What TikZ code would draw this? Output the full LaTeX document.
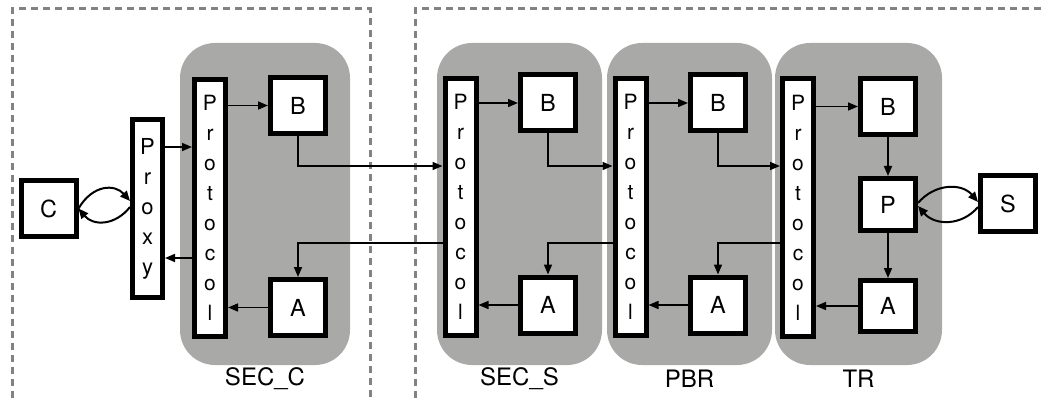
\documentclass[tikz,border=0pt]{standalone}
\usepackage{fontspec}
\setmainfont{TeX Gyre Heros}
\usetikzlibrary{arrows.meta}
\definecolor{panelgray}{RGB}{169,170,168}
\definecolor{dashgray}{RGB}{130,130,130}
\begin{document}
\begin{tikzpicture}[x=1pt,y=-1pt,
  frame/.style={draw=dashgray, line width=3pt, dash pattern=on 7pt off 5pt},
  panel/.style={fill=panelgray, rounded corners=35pt, minimum width=166pt, minimum height=322pt, inner sep=0pt},
  box/.style={draw, line width=5pt, fill=white, inner sep=0pt, minimum width=55pt, minimum height=56pt, font=\fontsize{23.5}{28}\selectfont},
  proto/.style={draw, line width=5pt, fill=white, inner sep=0pt, minimum width=31pt, minimum height=257pt, align=center, font=\fontsize{21}{30}\selectfont},
  proxybox/.style={draw, line width=5pt, fill=white, inner sep=0pt, minimum width=30pt, minimum height=178pt, align=center, font=\fontsize{22}{30}\selectfont},
  lbl/.style={font=\fontsize{24}{28}\selectfont, inner sep=0pt},
  arr/.style={line width=1.6pt, -{Triangle[length=10pt,width=8pt]}},
  curvearr/.style={line width=2pt, -{Triangle[length=10pt,width=8.5pt]}}
]
\useasboundingbox (0,0) rectangle (1044,398);
% dashed frames
\draw[frame] (12,398) -- (12,9) -- (370,9) -- (370,398);
\draw[frame] (415,398) -- (415,9) -- (1044,9);
% panels
\node[panel, minimum width=170pt] (gC) at (265,204) {};
\node[panel, minimum width=165pt] (gS) at (519.5,204) {};
\node[panel, minimum width=165pt] (gP) at (689.5,204) {};
\node[panel, minimum width=167pt] (gT) at (858.5,204) {};
\node[lbl] (lC) at (265,379) {SEC\_C};
\node[lbl] (lS) at (519.5,379) {SEC\_S};
\node[lbl] (lP) at (689.5,379) {PBR};
\node[lbl] (lT) at (858.5,379) {TR};
% outer nodes
\node[box, minimum height=56pt] (c) at (48.5,208.5) {C};
\node[proxybox] (px) at (147.5,208.5) {P\\r\\o\\x\\y};
\node[box] (s) at (1008,204) {S};
% SEC_C
\node[proto] (pC) at (210,208) {P\\r\\o\\t\\o\\c\\o\\l};
\node[box] (bC) at (298,105.5) {B};
\node[box] (aC) at (298,307.5) {A};
% SEC_S
\node[proto] (pS) at (460.5,207) {P\\r\\o\\t\\o\\c\\o\\l};
\node[box] (bS) at (548,103) {B};
\node[box] (aS) at (548,305) {A};
% PBR
\node[proto] (pP) at (630.5,207) {P\\r\\o\\t\\o\\c\\o\\l};
\node[box] (bP) at (718,103) {B};
\node[box] (aP) at (718,305) {A};
% TR
\node[proto] (pT) at (798,207.5) {P\\r\\o\\t\\o\\c\\o\\l};
\node[box] (bT) at (888,106.5) {B};
\node[box, minimum height=52pt] (pp) at (888,204.5) {P};
\node[box, minimum height=51pt] (aT) at (888,306) {A};
% C <-> Proxy
\draw[curvearr] (c.east) .. controls (93,184) and (115,184) .. (px.west |- 0,201);
\draw[curvearr] (px.west |- 0,207) .. controls (115,226) and (93,226) .. (c.east);
% P <-> S
\draw[curvearr] (pp.east |- 0,203) .. controls (935,183) and (962,183) .. (s.west |- 0,202);
\draw[curvearr] (s.west |- 0,207) .. controls (962,226) and (935,226) .. (pp.east |- 0,206);
% Proxy <-> Protocol
\draw[arr] (px.east |- 0,147) -- (pC.west |- 0,147);
\draw[arr] (pC.west |- 0,258) -- (px.east |- 0,258);
% inside panels
\foreach \p/\b/\a in {pC/bC/aC, pS/bS/aS, pP/bP/aP, pT/bT/aT}{
  \draw[arr] (\p.east |- \b.west) -- (\b.west);
  \draw[arr] (\a.west) -- (\p.east |- \a.west);
}
% forward chain
\draw[arr] (bC.south) |- (pS.west |- 0,166);
\draw[arr] (bS.south) |- (pP.west |- 0,166);
\draw[arr] (bP.south) |- (pT.west |- 0,166);
% return chain
\draw[arr] (pS.west |- 0,243) -| (aC.north);
\draw[arr] (pP.west |- 0,243) -| (aS.north);
\draw[arr] (pT.west |- 0,243) -| (aP.north);
% TR vertical
\draw[arr] (bT.south) -- (pp.north);
\draw[arr] (pp.south) -- (aT.north);
\end{tikzpicture}
\end{document}
